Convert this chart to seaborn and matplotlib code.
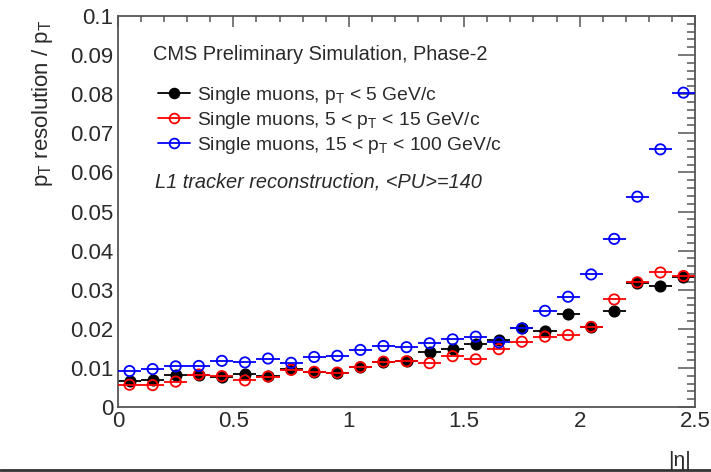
import numpy as np
import pandas as pd
import seaborn as sns
import matplotlib
matplotlib.use("Agg")
import matplotlib.pyplot as plt
from matplotlib.lines import Line2D
from matplotlib.ticker import MultipleLocator, FuncFormatter

# ---- data ----
eta_centers = [0.05, 0.15, 0.25, 0.35, 0.45, 0.55, 0.65, 0.75, 0.85, 0.95,
               1.05, 1.15, 1.25, 1.35, 1.45, 1.55, 1.65, 1.75, 1.85, 1.95,
               2.05, 2.15, 2.25, 2.35, 2.45]
bin_half_width = 0.05
res_low = [0.0066, 0.0068, 0.0082, 0.0083, 0.0077, 0.0085, 0.0080, 0.0096, 0.0090, 0.0088,
           0.0102, 0.0116, 0.0117, 0.0140, 0.0149, 0.0160, 0.0171, 0.0201, 0.0195, 0.0237,
           0.0205, 0.0246, 0.0318, 0.0309, 0.0332]
res_mid = [0.0057, 0.0056, 0.0065, 0.0083, 0.0079, 0.0068, 0.0078, 0.0095, 0.0090, 0.0088,
           0.0102, 0.0116, 0.0117, 0.0112, 0.0130, 0.0122, 0.0148, 0.0167, 0.0180, 0.0184,
           0.0205, 0.0275, 0.0319, 0.0344, 0.0335]
res_high = [0.0092, 0.0097, 0.0104, 0.0105, 0.0118, 0.0114, 0.0124, 0.0113, 0.0128, 0.0131,
            0.0146, 0.0156, 0.0153, 0.0163, 0.0173, 0.0180, 0.0165, 0.0201, 0.0246, 0.0282,
            0.0339, 0.0430, 0.0538, 0.0659, 0.0804]
series_labels = [r"Single muons, $\mathrm{p}_{\mathrm{T}}$ < 5 GeV/c",
                 r"Single muons, 5 < $\mathrm{p}_{\mathrm{T}}$ < 15 GeV/c",
                 r"Single muons, 15 < $\mathrm{p}_{\mathrm{T}}$ < 100 GeV/c"]
series_colors = ["black", "#ff0000", "#0000ff"]
x_ticks = [0, 0.5, 1, 1.5, 2, 2.5]
y_ticks = [0, 0.01, 0.02, 0.03, 0.04, 0.05, 0.06, 0.07, 0.08, 0.09, 0.1]

sns.set_theme(style="white")
plt.rcParams["font.family"] = ["Liberation Sans", "DejaVu Sans"]
plt.rcParams["mathtext.fontset"] = "custom"
plt.rcParams["mathtext.rm"] = "Liberation Sans"
plt.rcParams["mathtext.it"] = "Liberation Sans:italic"

frames = []
for lab, vals in zip(series_labels, [res_low, res_mid, res_high]):
    frames.append(pd.DataFrame({"eta": eta_centers, "res": vals, "series": lab}))
df = pd.concat(frames, ignore_index=True)

W, H = 711, 472
fig = plt.figure(figsize=(W / 100, H / 100), dpi=100)
ax = fig.add_axes([118 / W, 1 - 407 / H, (695 - 118) / W, (407 - 16) / H])

filled = [True, False, False]
for i, (lab, col) in enumerate(zip(series_labels, series_colors)):
    sub = df[df["series"] == lab]
    ax.errorbar(sub["eta"], sub["res"], xerr=bin_half_width, fmt="none",
                ecolor=col, elinewidth=1.3, capsize=0, zorder=2 + i)
    sns.scatterplot(data=sub, x="eta", y="res", ax=ax, s=55,
                    marker="o", facecolor=col if filled[i] else "none",
                    edgecolor=col, linewidth=1.3, zorder=2.5 + i, legend=False)

ax.set_xlim(0, 2.5)
ax.set_ylim(0, 0.1)
ax.set_xticks(x_ticks)
ax.set_yticks(y_ticks)
ax.set_xlabel("")
ax.set_ylabel("")
ax.xaxis.set_minor_locator(MultipleLocator(0.1))
ax.yaxis.set_minor_locator(MultipleLocator(0.002))
ax.xaxis.set_major_formatter(FuncFormatter(lambda v, p: f"{round(v, 2):g}"))
ax.yaxis.set_major_formatter(FuncFormatter(lambda v, p: f"{round(v, 3):g}"))

tick_col = "#555555"
ax.tick_params(axis="both", which="both", direction="in", top=True, right=True,
               color=tick_col, labelcolor="#2a2a2a", labelsize=16)
ax.tick_params(axis="x", which="major", length=8, width=1.1, pad=3)
ax.tick_params(axis="x", which="minor", length=4, width=1.1)
ax.tick_params(axis="y", which="major", length=12.5, width=1.1, pad=3.5)
ax.tick_params(axis="y", which="minor", length=5.5, width=1.1)
for sp in ax.spines.values():
    sp.set_color(tick_col)
    sp.set_linewidth(1.3)

# y label
fig.text(43 / W, 1 - 19 / H, r"$\mathrm{p}_{\mathrm{T}}$ resolution / $\mathrm{p}_{\mathrm{T}}$",
         rotation=90, ha="center", va="top", fontsize=16, color="#2a2a2a")
# x label
fig.text(691 / W, 1 - 461 / H, "|η|", ha="right", va="center", fontsize=15, color="#2a2a2a")

# header texts
fig.text(153 / W, 1 - 55 / H, "CMS Preliminary Simulation, Phase-2",
         ha="left", va="center", fontsize=14.4, color="#2a2a2a")
fig.text(155 / W, 1 - 182 / H, "L1 tracker reconstruction, <PU>=140",
         ha="left", va="center", fontsize=14.4, color="#2a2a2a", style="italic")

handles = []
for i, col in enumerate(series_colors):
    handles.append(Line2D([], [], color=col, lw=1.3, marker="o", markersize=7,
                          markerfacecolor=col if filled[i] else "none",
                          markeredgecolor=col, markeredgewidth=1.3))
leg = ax.legend(handles, series_labels, loc="upper left",
                bbox_to_anchor=(158 / W, 1 - 85 / H), bbox_transform=fig.transFigure,
                frameon=False, fontsize=13.9, handlelength=1.65, handletextpad=0.35,
                labelspacing=0.2, borderpad=0, borderaxespad=0, numpoints=1)
for t in leg.get_texts():
    t.set_color("#2a2a2a")

# bottom frame line
fig.add_artist(Line2D([0, 1], [1 - 470 / H, 1 - 470 / H], transform=fig.transFigure,
                      color="#333333", lw=2))

fig.savefig("out.png", dpi=100)
